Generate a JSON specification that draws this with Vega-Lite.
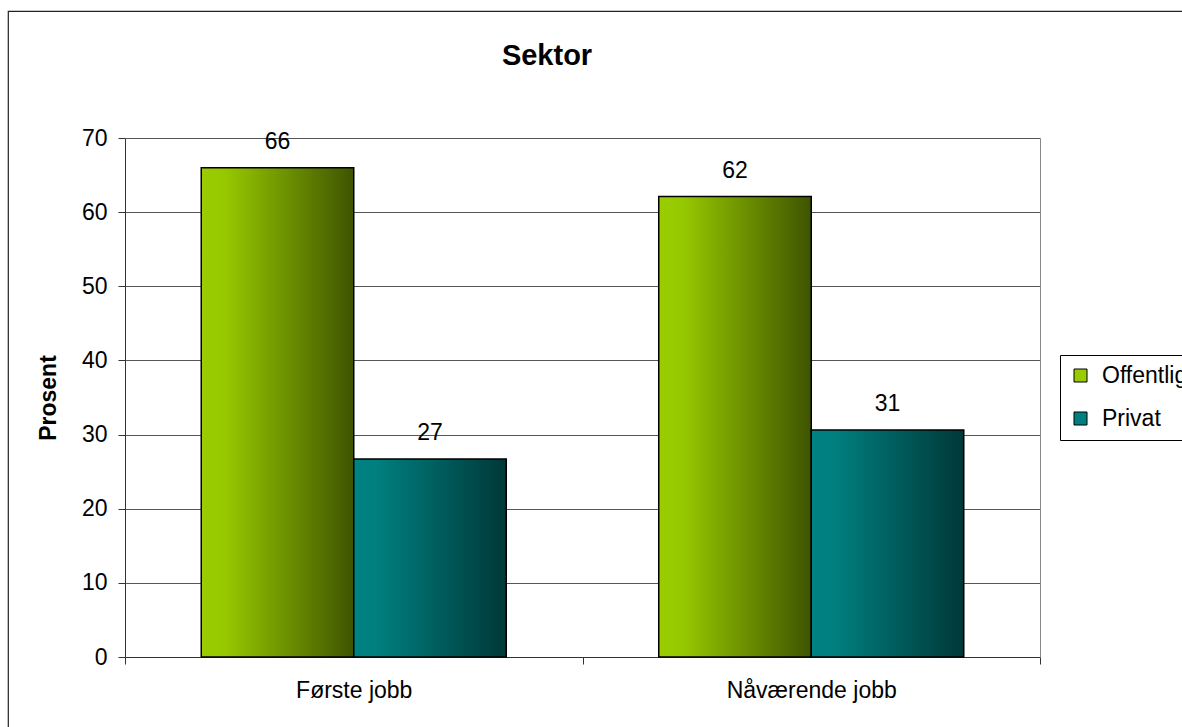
{
  "$schema": "https://vega.github.io/schema/vega-lite/v6.json",
  "autosize": {"type": "none"},
  "padding": {"left": 8, "top": 11, "right": -2, "bottom": -2},
  "width": 1176,
  "height": 718,
  "background": "white",
  "config": {
    "font": "Liberation Sans",
    "view": {"stroke": "#222", "strokeWidth": 1.2}
  },
  "title": {
    "text": "Sektor",
    "fontSize": 29,
    "fontWeight": "bold",
    "color": "black",
    "anchor": "middle",
    "frame": "group",
    "offset": 0,
    "baseline": "middle",
    "dx": -49,
    "dy": 74
  },
  "data": {
    "values": [
      {"job": "Første jobb", "series": "Offentlig", "value": 66.0},
      {"job": "Første jobb", "series": "Privat", "value": 26.7},
      {"job": "Nåværende jobb", "series": "Offentlig", "value": 62.1},
      {"job": "Nåværende jobb", "series": "Privat", "value": 30.6}
    ]
  },
  "encoding": {
    "x": {
      "field": "job",
      "type": "nominal",
      "sort": ["Første jobb", "Nåværende jobb"],
      "scale": {"range": [117, 1032], "paddingInner": 0, "paddingOuter": 0},
      "axis": {
        "orient": "bottom",
        "offset": -72,
        "title": null,
        "labelAngle": 0,
        "tickBand": "extent",
        "tickSize": 7,
        "tickColor": "#333",
        "domainColor": "#333",
        "labelPadding": 15,
        "labelFontSize": 23,
        "labelColor": "black",
        "grid": false
      }
    },
    "xOffset": {
      "field": "series",
      "type": "nominal",
      "sort": ["Offentlig", "Privat"],
      "scale": {"paddingInner": 0, "paddingOuter": 0.5}
    }
  },
  "layer": [
    {
      "mark": {"type": "bar", "stroke": "black", "strokeWidth": 1.5},
      "encoding": {
        "y": {
          "field": "value",
          "type": "quantitative",
          "scale": {"domain": [0, 70], "range": [646, 127], "nice": false, "zero": true},
          "axis": {
            "orient": "left",
            "offset": -117,
            "values": [0, 10, 20, 30, 40, 50, 60, 70],
            "grid": true,
            "gridColor": "#555",
            "gridWidth": 1,
            "tickSize": 7,
            "tickColor": "#333",
            "domainColor": "#333",
            "labelPadding": 11,
            "labelFontSize": 23,
            "labelColor": "black",
            "title": "Prosent",
            "titleFontSize": 23,
            "titleFontWeight": "bold",
            "titleColor": "black",
            "titleAngle": -90,
            "titleBaseline": "middle",
            "titleAlign": "center",
            "titleX": -77,
            "titleY": 386.5
          }
        },
        "color": {
          "field": "series",
          "type": "nominal",
          "sort": ["Offentlig", "Privat"],
          "scale": {"domain": ["Offentlig", "Privat"], "range": ["#99CC00", "#008080"]},
          "condition": [
            {
              "test": "datum.series === 'Offentlig'",
              "value": {
                "gradient": "linear", "x1": 0, "y1": 0, "x2": 1, "y2": 0,
                "stops": [
                  {"offset": 0, "color": "#9ACD00"},
                  {"offset": 0.15, "color": "#97C900"},
                  {"offset": 1, "color": "#3F5400"}
                ]
              }
            },
            {
              "test": "datum.series === 'Privat'",
              "value": {
                "gradient": "linear", "x1": 0, "y1": 0, "x2": 1, "y2": 0,
                "stops": [
                  {"offset": 0, "color": "#008282"},
                  {"offset": 0.15, "color": "#007F7F"},
                  {"offset": 1, "color": "#003838"}
                ]
              }
            }
          ],
          "legend": {
            "orient": "none",
            "legendX": 1052,
            "legendY": 344,
            "title": null,
            "strokeColor": "black",
            "fillColor": "white",
            "padding": 9,
            "rowPadding": 19,
            "symbolType": "square",
            "symbolSize": 169,
            "symbolStrokeColor": "black",
            "symbolStrokeWidth": 1,
            "labelFontSize": 23,
            "labelColor": "black",
            "labelOffset": 10,
            "encode": {
              "symbols": {
                "update": {
                  "stroke": {"value": "black"},
                  "fill": [
                    {
                      "test": "datum.value === 'Offentlig'",
                      "value": {
                        "gradient": "linear", "x1": 0, "y1": 0, "x2": 1, "y2": 0,
                        "stops": [
                          {"offset": 0, "color": "#9ACD00"},
                          {"offset": 1, "color": "#3F5400"}
                        ]
                      }
                    },
                    {
                      "value": {
                        "gradient": "linear", "x1": 0, "y1": 0, "x2": 1, "y2": 0,
                        "stops": [
                          {"offset": 0, "color": "#008282"},
                          {"offset": 1, "color": "#003838"}
                        ]
                      }
                    }
                  ]
                }
              }
            }
          }
        }
      }
    },
    {
      "mark": {"type": "text", "fontSize": 23, "color": "black", "baseline": "middle", "dy": -26},
      "encoding": {
        "y": {
          "field": "value",
          "type": "quantitative",
          "scale": {"domain": [0, 70], "range": [646, 127], "nice": false, "zero": true},
          "axis": {
            "orient": "right",
            "offset": -144,
            "labels": false,
            "ticks": false,
            "grid": false,
            "domain": true,
            "domainColor": "#888",
            "title": null
          }
        },
        "text": {"field": "value", "type": "quantitative", "format": ".0f"}
      }
    }
  ],
  "resolve": {"axis": {"y": "independent"}}
}
